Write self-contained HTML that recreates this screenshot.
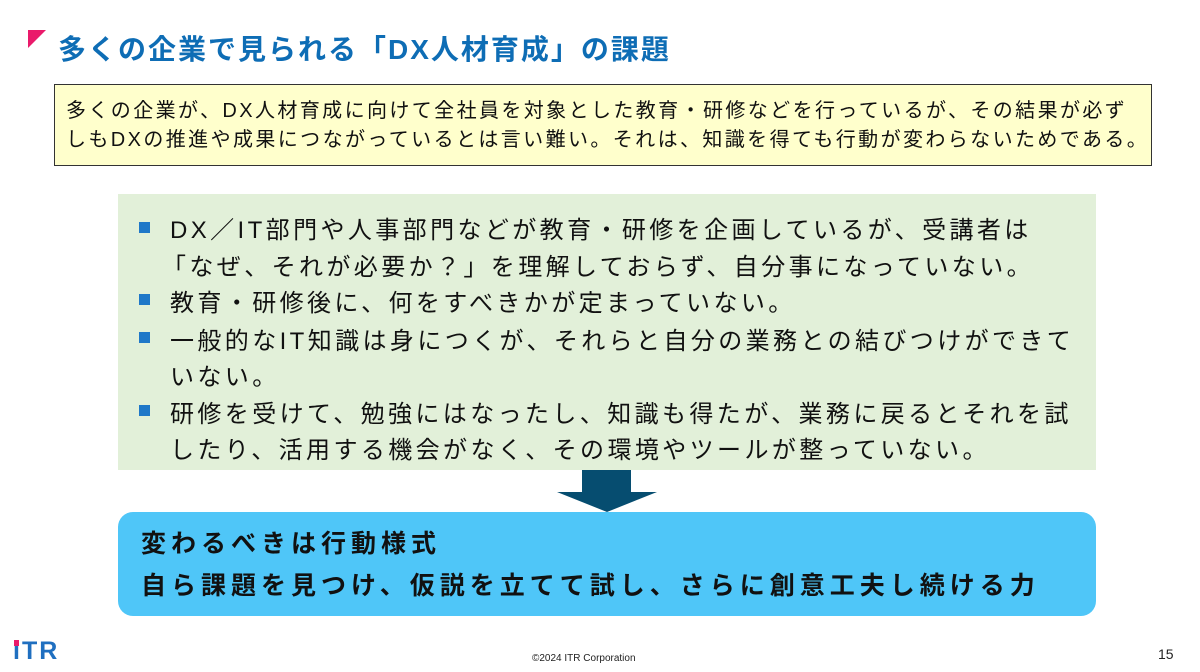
<!DOCTYPE html>
<html><head><meta charset="utf-8"><style>
body{margin:0;width:1200px;height:672px;background:#fff;position:relative;overflow:hidden;font-family:"Liberation Sans","Noto Sans CJK JP",sans-serif}
.a{position:absolute;white-space:nowrap}
.t{font-size:28px;letter-spacing:2px;font-weight:bold;color:#0e6db5;left:58px;top:28px}
.note{left:54px;top:84px;width:1098px;height:82px;box-sizing:border-box;background:#ffffcc;border:1px solid #333}
.n{font-size:20px;letter-spacing:2.4px;color:#111;left:66px}
.g{left:118px;top:194px;width:978px;height:276px;background:#e2f0d9}
.l{font-size:24px;letter-spacing:3.4px;color:#111}
.sq{position:absolute;width:11px;height:11px;background:#1f78c8;left:139px}
.b{left:118px;top:512px;width:978px;height:104px;background:#4fc6f8;border-radius:15px}
.bt{font-size:25px;letter-spacing:5px;font-weight:bold;color:#111;left:141px}
</style></head><body>
<div class="a" style="left:28px;top:30px;width:0;height:0;border-top:18px solid #ea1a6b;border-right:18px solid transparent"></div>
<div class="a t">多くの企業で見られる「DX人材育成」の課題</div>
<div class="a note"></div>
<div class="a n" style="top:94px">多くの企業が、DX人材育成に向けて全社員を対象とした教育・研修などを行っているが、その結果が必ず</div>
<div class="a n" style="top:123px">しもDXの推進や成果につながっているとは言い難い。それは、知識を得ても行動が変わらないためである。</div>
<div class="a g"></div>
<div class="sq" style="top:222px"></div><div class="a l" style="left:170px;top:210px">DX／IT部門や人事部門などが教育・研修を企画しているが、受講者は</div>
<div class="a l" style="left:162px;top:247px">「なぜ、それが必要か？」を理解しておらず、自分事になっていない。</div>
<div class="sq" style="top:294px"></div><div class="a l" style="left:170px;top:283px">教育・研修後に、何をすべきかが定まっていない。</div>
<div class="sq" style="top:332px"></div><div class="a l" style="left:170px;top:321px">一般的なIT知識は身につくが、それらと自分の業務との結びつけができて</div>
<div class="a l" style="left:170px;top:357px">いない。</div>
<div class="sq" style="top:405px"></div><div class="a l" style="left:170px;top:394px">研修を受けて、勉強にはなったし、知識も得たが、業務に戻るとそれを試</div>
<div class="a l" style="left:170px;top:430px">したり、活用する機会がなく、その環境やツールが整っていない。</div>
<div class="a" style="left:582px;top:470px;width:49px;height:23px;background:#064d70"></div>
<div class="a" style="left:557px;top:492px;width:0;height:0;border-left:50px solid transparent;border-right:50px solid transparent;border-top:20px solid #064d70"></div>
<div class="a b"></div>
<div class="a bt" style="top:524px">変わるべきは行動様式</div>
<div class="a bt" style="top:566px">自ら課題を見つけ、仮説を立てて試し、さらに創意工夫し続ける力</div>
<div class="a" style="left:13px;top:637px;font-size:25px;letter-spacing:2px;font-weight:bold;color:#1f6fc0">iTR</div>
<div class="a" style="left:14px;top:640px;width:5px;height:6px;background:#ea1a6b"></div>
<div class="a" style="left:532px;top:653px;font-size:10px;color:#222">©2024 ITR Corporation</div>
<div class="a" style="left:1158px;top:646px;font-size:14px;color:#222">15</div>
</body></html>
